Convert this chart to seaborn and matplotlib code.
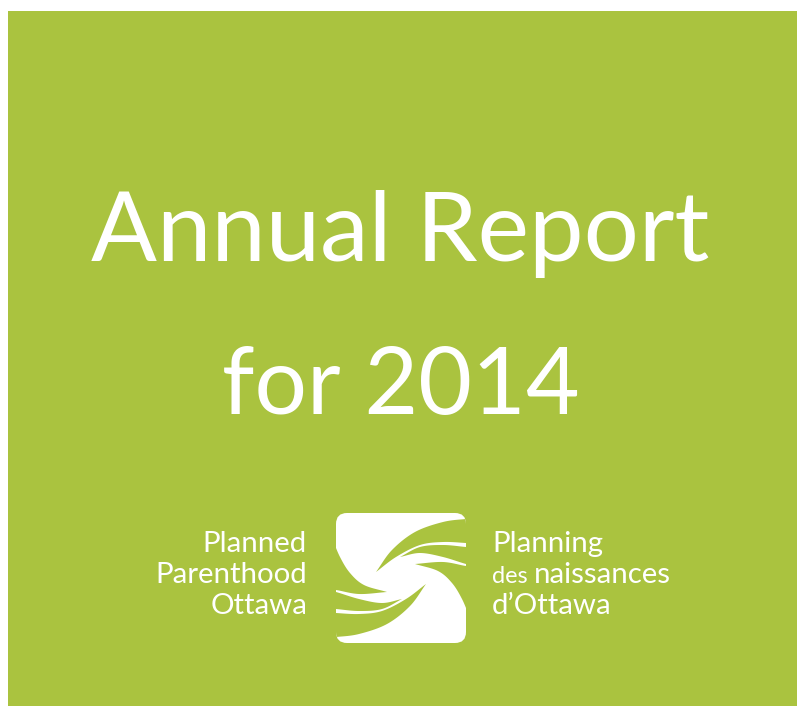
import matplotlib
matplotlib.use("Agg")
import numpy as np
import matplotlib.pyplot as plt
import seaborn as sns
from matplotlib.patches import Rectangle, FancyBboxPatch, Polygon

# cover text
title_lines = ["Annual Report", "for 2014"]
left_lines = ["Planned", "Parenthood", "Ottawa"]
right_lines = ["Planning", "des", "naissances", "d\u2019Ottawa"]

GREEN = "#AAC33F"

# logo: square box and the three upper-right swirl bands (pixel coords);
# the lower-left bands are the same ones turned by 180 degrees
logo_box = (336, 513, 130, 130)
band_upper = [
    [(376, 572), (392, 550), (415, 532), (443, 522), (466, 519), (480, 518)],
    [(400, 557), (420, 547), (443, 545), (466, 547), (480, 548)],
    [(415, 564), (443, 562), (466, 566), (480, 567)],
]
band_lower = [
    [(376, 572), (396, 557), (420, 545), (443, 542), (466, 543), (480, 544)],
    [(400, 557), (420, 553), (443, 557), (466, 564), (480, 567)],
    [(415, 564), (438, 571), (452, 583), (462, 599), (470, 618)],
]


def smooth(pts, n=20):
    # catmull-rom through the points
    p = np.asarray(pts, float)
    p = np.vstack([2 * p[0] - p[1], p, 2 * p[-1] - p[-2]])
    out = []
    for i in range(1, len(p) - 2):
        p0, p1, p2, p3 = p[i - 1], p[i], p[i + 1], p[i + 2]
        t = np.linspace(0, 1, n, endpoint=False)[:, None]
        out.append(0.5 * (2 * p1 + (-p0 + p2) * t
                          + (2 * p0 - 5 * p1 + 4 * p2 - p3) * t ** 2
                          + (-p0 + 3 * p1 - 3 * p2 + p3) * t ** 3))
    out.append(p[-2][None, :])
    return np.vstack(out)


def fit(t, target_w, renderer):
    w = t.get_window_extent(renderer).width
    t.set_fontsize(t.get_fontsize() * target_w / w)
    return t.get_fontsize()


sns.set_theme(style="white")
plt.rcParams["font.family"] = ["Lato", "DejaVu Sans"]

fig = plt.figure(figsize=(7.99, 7.08), dpi=100)
ax = fig.add_axes([0, 0, 1, 1])
ax.set_xlim(0, 799)
ax.set_ylim(708, 0)
ax.axis("off")
fig.patch.set_facecolor("white")

ax.add_patch(Rectangle((8, 11), 789, 695, facecolor=GREEN, edgecolor="none"))

r = fig.canvas.get_renderer()

t1 = ax.text(400, 261, title_lines[0], color="white", ha="center",
             va="baseline", fontsize=80)
fit(t1, 618, r)
t2 = ax.text(401, 414, title_lines[1], color="white", ha="center",
             va="baseline", fontsize=80)
fit(t2, 358, r)

# logo square
bx, by, bw, bh = logo_box
cx, cy = bx + bw / 2, by + bh / 2
sq = FancyBboxPatch((bx, by), bw, bh,
                    boxstyle="round,pad=0,rounding_size=11",
                    facecolor="white", edgecolor="none")
ax.add_patch(sq)
for up, lo in zip(band_upper, band_lower):
    poly = np.vstack([smooth(up), smooth(lo)[::-1]])
    for pts in (poly, np.column_stack([2 * cx - poly[:, 0], 2 * cy - poly[:, 1]])):
        p = Polygon(pts, closed=True, facecolor=GREEN, edgecolor="none")
        ax.add_patch(p)
        p.set_clip_path(sq)

# left block, right aligned
ref = ax.text(307, 583, left_lines[1], color="white", ha="right",
              va="baseline", fontsize=20)
fs = fit(ref, 152, r)
ax.text(307, 552, left_lines[0], color="white", ha="right",
        va="baseline", fontsize=fs)
ax.text(307, 614, left_lines[2], color="white", ha="right",
        va="baseline", fontsize=fs)

# right block, left aligned
ax.text(492, 552, right_lines[0], color="white", ha="left",
        va="baseline", fontsize=fs)
d = ax.text(492, 583, right_lines[1], color="white", ha="left",
            va="baseline", fontsize=fs * 0.8)
d_end = ax.transData.inverted().transform(
    (d.get_window_extent(r).x1, 0))[0]
ax.text(d_end + 6, 583, right_lines[2], color="white", ha="left",
        va="baseline", fontsize=fs)
ax.text(492, 614, right_lines[3], color="white", ha="left",
        va="baseline", fontsize=fs)

fig.savefig("out.png", dpi=100, facecolor="white")
